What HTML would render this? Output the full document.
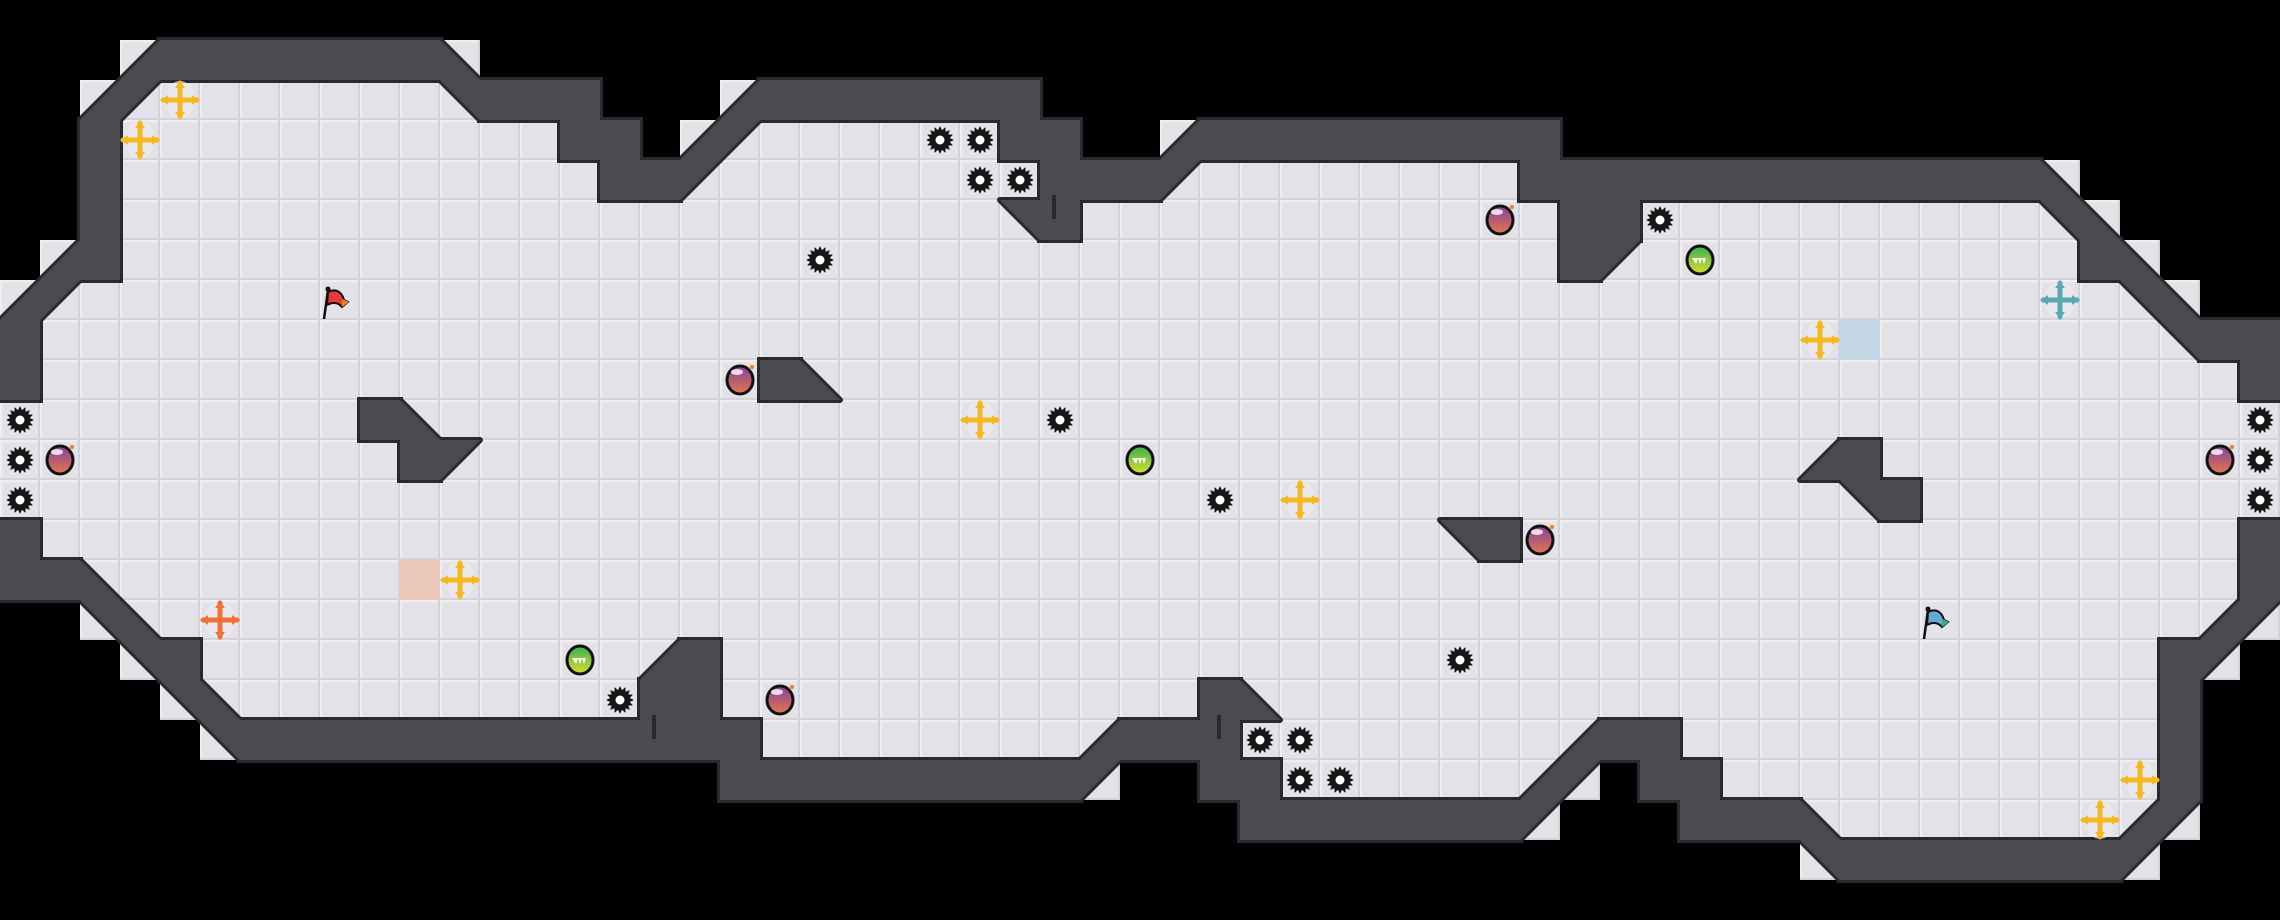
<!DOCTYPE html>
<html><head><meta charset="utf-8"><style>
html,body{margin:0;padding:0;background:#000;}
svg{display:block;}
</style></head><body>
<svg id="m" xmlns="http://www.w3.org/2000/svg" width="2280" height="920" viewBox="0 0 2280 920">
<defs>
<pattern id="fl" width="40" height="40" patternUnits="userSpaceOnUse">
<rect width="40" height="40" fill="#e2e2e7"/>
<rect x="0" y="0" width="40" height="2" fill="#efeff2"/>
<rect x="0" y="0" width="2" height="40" fill="#efeff2"/>
<rect x="38" y="0" width="2" height="40" fill="#d2d2d8"/>
<rect x="0" y="38" width="40" height="2" fill="#d2d2d8"/>
</pattern>
<linearGradient id="pg" x1="0" y1="0" x2="0" y2="1"><stop offset="0" stop-color="#8a3fa0"/><stop offset="1" stop-color="#e07a4a"/></linearGradient>
<linearGradient id="gg" x1="0" y1="0" x2="0" y2="1"><stop offset="0" stop-color="#3cb04a"/><stop offset="1" stop-color="#d8e030"/></linearGradient>
</defs>
<g id="floor"></g><g id="wstroke"></g><g id="wfill"></g><g id="items"></g>
</svg>
<script>
var S=40,W=57,H=23;
var g=[];for(var r=0;r<H;r++){g.push([]);for(var c=0;c<W;c++)g[r].push(' ');}
function s(r,a,b,ch){if(ch===undefined){ch=b;b=a;}for(var c=a;c<=b;c++)g[r][c]=ch;}
var spec=[
[],
[[3,'1'],[4,10,'#'],[11,'2']],
[[2,'1'],[3,'3'],[4,10,'.'],[11,'4'],[12,14,'#'],[18,'1'],[19,25,'#']],
[[2,'#'],[3,13,'.'],[14,15,'#'],[17,'1'],[18,'3'],[19,24,'.'],[25,26,'#'],[29,'1'],[30,38,'#']],
[[2,'#'],[3,14,'.'],[15,16,'#'],[17,'3'],[18,25,'.'],[26,28,'#'],[29,'3'],[30,37,'.'],[38,50,'#'],[51,'2']],
[[2,'#'],[3,24,'.'],[25,'4'],[26,'#'],[27,38,'.'],[39,40,'#'],[41,50,'.'],[51,'4'],[52,'2']],
[[1,'1'],[2,'#'],[3,38,'.'],[39,'#'],[40,'3'],[41,51,'.'],[52,'#'],[53,'2']],
[[0,'1'],[1,'3'],[2,52,'.'],[53,'4'],[54,'2']],
[[0,'#'],[1,53,'.'],[54,'4'],[55,56,'#']],
[[0,'#'],[1,18,'.'],[19,'#'],[20,'2'],[21,55,'.'],[56,'#']],
[[0,8,'.'],[9,'#'],[10,'2'],[11,56,'.']],
[[0,9,'.'],[10,'#'],[11,'3'],[12,44,'.'],[45,'1'],[46,'#'],[47,56,'.']],
[[0,45,'.'],[46,'4'],[47,'#'],[48,56,'.']],
[[0,'#'],[1,35,'.'],[36,'4'],[37,'#'],[38,55,'.'],[56,'#']],
[[0,1,'#'],[2,'2'],[3,55,'.'],[56,'#']],
[[2,'4'],[3,'2'],[4,54,'.'],[55,'1'],[56,'3']],
[[3,'4'],[4,'#'],[5,15,'.'],[16,'1'],[17,'#'],[18,53,'.'],[54,'#'],[55,'3']],
[[4,'4'],[5,'2'],[6,15,'.'],[16,17,'#'],[18,29,'.'],[30,'#'],[31,'2'],[32,53,'.'],[54,'#']],
[[5,'4'],[6,18,'#'],[19,26,'.'],[27,'1'],[28,30,'#'],[31,38,'.'],[39,'1'],[40,41,'#'],[42,53,'.'],[54,'#']],
[[18,26,'#'],[27,'3'],[30,31,'#'],[32,37,'.'],[38,'1'],[39,'3'],[41,42,'#'],[43,53,'.'],[54,'#']],
[[31,37,'#'],[38,'3'],[42,44,'#'],[45,'2'],[46,52,'.'],[53,'1'],[54,'3']],
[[45,'4'],[46,52,'#'],[53,'3']],
[]
];
for(var r=0;r<spec.length;r++)spec[r].forEach(function(e){if(e.length==2)s(r,e[0],e[1]);else s(r,e[0],e[1],e[2]);});
var NS="http://www.w3.org/2000/svg";
function el(p,t,a){var e=document.createElementNS(NS,t);for(var k in a)e.setAttribute(k,a[k]);document.getElementById(p).appendChild(e);return e;}
function tri(x,y,ch){var a=x,b=y,c=x+S,d=y+S;
 if(ch=='1')return c+','+b+' '+c+','+d+' '+a+','+d;
 if(ch=='2')return a+','+b+' '+a+','+d+' '+c+','+d;
 if(ch=='3')return a+','+b+' '+c+','+b+' '+a+','+d;
 return a+','+b+' '+c+','+b+' '+c+','+d;}
for(var r=0;r<H;r++)for(var c=0;c<W;c++){var ch=g[r][c],x=c*S,y=r*S;
 if(ch==' ')continue;
 el('floor','rect',{x:x,y:y,width:S,height:S,fill:'url(#fl)'});
 if(ch=='#'){el('wstroke','rect',{x:x,y:y,width:S,height:S,fill:'#2a2a2e',stroke:'#2a2a2e','stroke-width':6});
  el('wfill','rect',{x:x,y:y,width:S,height:S,fill:'#4b4b51'});}
 else if('1234'.indexOf(ch)>=0){var p=tri(x,y,ch);
  el('wstroke','polygon',{points:p,fill:'#2a2a2e',stroke:'#2a2a2e','stroke-width':6,'stroke-linejoin':'round'});
  el('wfill','polygon',{points:p,fill:'#4b4b51'});}
}
// colored squares
el('items','rect',{x:400,y:560,width:40,height:40,fill:'#ecc8b8'});
el('items','rect',{x:1840,y:320,width:40,height:40,fill:'#c4d8e8'});
// little slits
[[1052,195],[652,715],[1217,715]].forEach(function(p){el('items','rect',{x:p[0],y:p[1],width:4,height:24,fill:'#2a2a2e'});});
function gear(c,r){var cx=c*S+20,cy=r*S+20,pts=[];for(var i=0;i<32;i++){var a=i*Math.PI/16,rr=(i%2)?10:14;pts.push((cx+rr*Math.cos(a)).toFixed(1)+','+(cy+rr*Math.sin(a)).toFixed(1));}
 el('items','polygon',{points:pts.join(' '),fill:'#151515'});el('items','circle',{cx:cx,cy:cy,r:4.5,fill:'#fff'});}
[[0,10],[0,11],[0,12],[23,3],[24,3],[24,4],[25,4],[20,6],[26,10],[30,12],[36,16],[15,17],[31,18],[32,18],[32,19],[33,19],[41,5],[56,10],[56,11],[56,12]].forEach(function(p){gear(p[0],p[1]);});
function ball(c,r){var cx=c*S+20,cy=r*S+20;el('items','ellipse',{cx:cx,cy:cy,rx:13,ry:14,fill:'url(#pg)',stroke:'#111','stroke-width':3});
 el('items','ellipse',{cx:cx-3,cy:cy-8,rx:6,ry:3,fill:'#fff',opacity:0.8});el('items','circle',{cx:cx+12,cy:cy-13,r:2,fill:'#f08020'});}
[[18,9],[1,11],[37,5],[19,17],[38,13],[55,11]].forEach(function(p){ball(p[0],p[1]);});
function green(c,r){var cx=c*S+20,cy=r*S+20;el('items','ellipse',{cx:cx,cy:cy,rx:13,ry:14,fill:'url(#gg)',stroke:'#111','stroke-width':3});
 el('items','path',{d:'M'+(cx-8)+' '+(cy-2)+' l4 6 l2-6 l2 6 l2-6 l2 6 l2-6 z',fill:'#fff'});}
[[14,16],[28,11],[42,6]].forEach(function(p){green(p[0],p[1]);});
function pu(c,r,col){var cx=c*S+20,cy=r*S+20;el('items','ellipse',{cx:cx,cy:cy,rx:15,ry:19,fill:'#ececf0',opacity:0.7});
 el('items','path',{d:'M'+cx+' '+(cy-17)+' L'+cx+' '+(cy+17)+' M'+(cx-17)+' '+cy+' L'+(cx+17)+' '+cy,stroke:col,'stroke-width':5,'stroke-linecap':'round'});
 [[0,-19,-5,-12,5,-12],[0,19,-5,12,5,12],[-19,0,-12,-5,-12,5],[19,0,12,-5,12,5]].forEach(function(t){el('items','polygon',{points:(cx+t[0])+','+(cy+t[1])+' '+(cx+t[2])+','+(cy+t[3])+' '+(cx+t[4])+','+(cy+t[5]),fill:col});});}
[[4,2],[3,3],[11,14],[24,10],[32,12],[45,8],[53,19],[52,20]].forEach(function(p){pu(p[0],p[1],'#f5b820');});
pu(5,15,'#f07038');pu(51,7,'#5aa8b0');
function flag(c,r,col,tip){var x=c*S,y=r*S;
 el('items','path',{d:'M'+(x+4)+' '+(y+39)+' L'+(x+8)+' '+(y+10),stroke:'#111','stroke-width':2.5});
 el('items','circle',{cx:x+8,cy:y+9,r:2.5,fill:'#111'});
 el('items','path',{d:'M'+(x+8)+' '+(y+12)+' C'+(x+16)+' '+(y+8)+' '+(x+22)+' '+(y+12)+' '+(x+24)+' '+(y+20)+' L'+(x+28)+' '+(y+22)+' L'+(x+22)+' '+(y+27)+' C'+(x+18)+' '+(y+22)+' '+(x+12)+' '+(y+22)+' '+(x+7)+' '+(y+25)+' Z',fill:col,stroke:'#111','stroke-width':2});
 el('items','path',{d:'M'+(x+22)+' '+(y+19)+' L'+(x+29)+' '+(y+22)+' L'+(x+22)+' '+(y+27)+' Z',fill:tip});}
flag(8,7,'#e83838','#f08030');flag(48,15,'#60a8d8','#40b080');
</script>
</body></html>
